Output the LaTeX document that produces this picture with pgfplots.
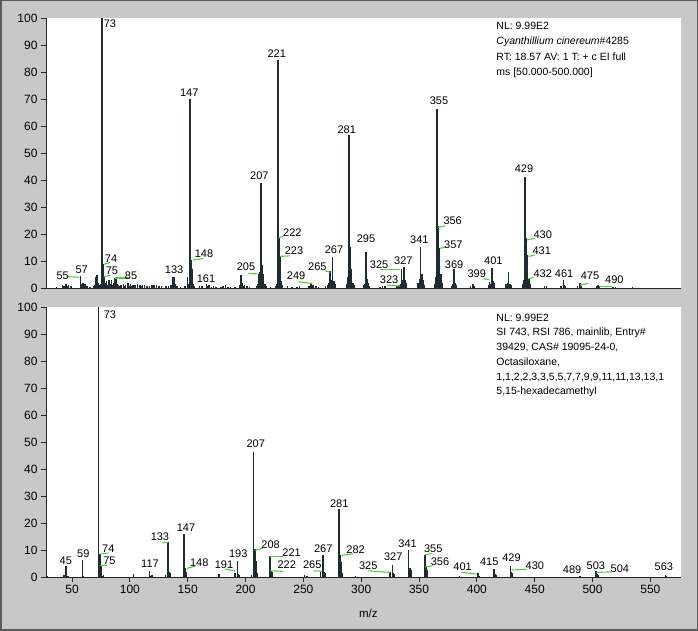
\documentclass[border=0pt]{standalone}
\usepackage{fontspec}
\setmainfont{Liberation Sans}
\usepackage{pgfplots}
\pgfplotsset{compat=1.18}

\definecolor{bg}{HTML}{C8C8C8}
\definecolor{frame}{HTML}{5A5A5A}
\definecolor{peak}{HTML}{1F2B30}
\definecolor{leadgreen}{HTML}{52CF3E}

\newcommand{\lbl}{\fontsize{11}{12}\selectfont}
% peak label and green leader line, in axis coordinates
\newcommand{\pk}[3]{\node[font=\lbl, inner sep=0pt] at (axis cs:#1,#2) {#3};}
\newcommand{\ld}[4]{\draw[leadgreen, line width=1.1pt] (axis cs:#1,#2) -- (axis cs:#3,#4);}

\pgfplotsset{
  ms/.style={
    scale only axis, width=635pt, height=270pt,
    anchor=south west,
    ymin=0, ymax=100, ytick={0,10,...,100},
    axis x line*=bottom, axis y line*=left,
    axis line style={draw=black!85, line width=0.8pt},
    tick style={draw=black!85, line width=0.8pt},
    tick align=outside, major tick length=5pt,
    axis background/.style={fill=white},
    tick label style={font=\fontsize{12}{14}\selectfont},
    /pgf/number format/assume math mode=true,
    clip=false,
  },
  stick/.style={ycomb, draw=peak, line width=1.5pt, mark=none},
}

\begin{document}
\begin{tikzpicture}[x=1pt,y=1pt]
\draw[fill=bg, draw=frame, line width=1.5pt] (0.75,0.75) rectangle (697.25,630.25);

% ---------------- top: sample spectrum ----------------
\begin{axis}[ms, at={(46pt,343pt)}, xmin=26, xmax=560, xtick=\empty]
\addplot[stick] table {
35 0.5
40 1.0
41 0.6
42 0.8
43 1.5
44 0.8
45 1.2
47 0.6
55 4.4
56 1.5
57 2.0
58 0.8
59 1.5
60 0.6
61 0.8
63 0.5
66 0.8
67 1.2
68 4.0
69 4.8
70 2.0
71 1.2
72 1.5
73 100
74 8.8
75 4.2
76 2.0
77 2.5
78 1.2
79 2.8
80 1.5
81 2.8
82 1.0
83 2.0
84 3.6
85 3.2
86 1.5
87 1.0
88 0.8
89 1.2
91 1.5
92 0.8
93 1.2
95 1.8
96 0.8
97 1.5
98 0.6
99 1.0
101 1.2
103 1.5
105 1.0
106 0.6
107 1.2
109 1.0
111 0.8
113 0.6
115 1.0
117 1.2
119 1.0
121 0.8
123 0.6
127 0.6
129 0.8
131 1.0
133 4.2
134 4.0
135 1.5
136 0.6
139 0.5
143 0.6
145 4.2
146 1.5
147 70
148 10.4
149 7.0
150 1.5
151 0.8
155 0.6
157 0.8
161 1.5
162 0.6
163 1.0
165 0.5
167 0.6
169 0.5
173 0.5
175 0.6
177 1.0
179 0.5
181 0.5
185 0.5
189 1.0
190 4.8
191 2.0
192 0.8
193 1.0
195 0.6
197 0.5
203 0.8
204 1.5
205 5.2
206 6.0
207 39
208 8.5
209 5.0
210 1.5
211 0.8
215 0.5
219 0.8
220 1.5
221 84.4
222 19
223 11.6
224 2.5
225 1.2
229 0.6
233 0.5
237 0.5
239 0.6
247 0.8
249 1.8
250 1.0
251 1.2
253 0.6
255 0.5
261 0.6
263 1.0
264 2.0
265 6.4
266 3.0
267 11.6
268 2.5
269 1.5
279 1.5
280 4.0
281 56.7
282 15
283 7.0
284 2.0
285 1.0
293 1.0
294 1.5
295 13.4
296 3.5
297 2.0
298 0.6
307 0.5
309 0.6
311 0.8
321 0.8
323 1.0
324 1.5
325 6.9
326 3.0
327 7.9
328 3.0
329 2.0
339 2.0
340 3.5
341 15.3
342 5.0
343 3.0
344 1.0
353 1.5
354 4.0
355 66.3
356 23
357 14.7
358 5.0
359 2.0
367 0.8
368 1.5
369 6.9
370 2.0
371 1.0
383 0.8
385 1.5
386 0.8
398 1.0
399 2.2
400 1.5
401 7.5
402 2.5
403 2.0
413 1.5
414 2.0
415 6.0
416 1.5
417 1.0
427 1.5
428 3.0
429 41.2
430 18.4
431 12.2
432 3.2
433 1.5
445 0.8
447 0.6
459 0.8
461 3.0
462 1.0
463 0.8
473 0.8
475 1.7
476 0.6
489 0.8
490 1.0
491 0.5
503 0.4
505 0.4
519 0.3
};
\ld{43.4}{4.2}{54}{4.0}
\ld{74.8}{8.8}{79.8}{9.4}
\ld{74.8}{4.2}{79.8}{4.7}
\ld{84}{3.7}{96}{3.7}
\ld{149.4}{10.4}{158.3}{10.9}
\ld{196.1}{5.4}{204.6}{5.2}
\ld{221.4}{18.6}{225.6}{19.1}
\ld{222.7}{11.7}{231.1}{11.9}
\ld{238.2}{2.3}{249.5}{1.7}
\ld{260.6}{6.4}{264.9}{5.8}
\ld{306.9}{6.9}{323.7}{6.9}
\ld{312.5}{1.1}{323.7}{0.7}
\ld{355.9}{22.4}{361.6}{23}
\ld{357.4}{14.7}{362.4}{15.1}
\ld{393.8}{3.4}{398.8}{3.1}
\ld{430.3}{17.8}{437.3}{18.4}
\ld{431.7}{11.7}{437.3}{12.2}
\ld{431.7}{3.4}{435.9}{3.9}
\ld{475.1}{1.1}{482}{1.7}
\ld{491.4}{0.7}{501.8}{0.7}
\pk{79.8}{97.8}{73}
\pk{220}{86.9}{221}
\pk{146.5}{72.3}{147}
\pk{205.4}{41.6}{207}
\pk{233.2}{20.5}{222}
\pk{234.6}{13.8}{223}
\pk{158.9}{12.8}{148}
\pk{80.7}{11}{74}
\pk{81.5}{6.4}{75}
\pk{97.5}{4.7}{85}
\pk{40}{4.7}{55}
\pk{56}{6.9}{57}
\pk{133.7}{6.9}{133}
\pk{160.6}{3.6}{161}
\pk{194.2}{7.9}{205}
\pk{236.3}{4.7}{249}
\pk{254.2}{7.9}{265}
\pk{268.2}{14.1}{267}
\pk{278.9}{58.5}{281}
\pk{295.1}{18.4}{295}
\pk{306.1}{8.8}{325}
\pk{314.5}{3}{323}
\pk{326.5}{10.1}{327}
\pk{340}{18}{341}
\pk{356.5}{69.3}{355}
\pk{368}{24.9}{356}
\pk{368.6}{16.2}{357}
\pk{369.2}{8.8}{369}
\pk{388.2}{5.2}{399}
\pk{402.2}{10}{401}
\pk{428}{44}{429}
\pk{443.7}{19.6}{430}
\pk{442.9}{13.8}{431}
\pk{443.7}{5.4}{432}
\pk{461.7}{5.4}{461}
\pk{483.5}{4.4}{475}
\pk{504}{3.2}{490}
\node[anchor=north west, align=left, inner sep=0pt,
      font=\fontsize{10.5}{15.3}\selectfont] at (rel axis cs:0.709,0.985)
  {NL: 9.99E2\\ \textit{Cyanthillium cinereum}\#4285\\
   RT: 18.57 AV: 1 T: + c EI full\\ ms [50.000-500.000]};
\end{axis}

% ---------------- bottom: library spectrum ----------------
\begin{axis}[ms, at={(46pt,54pt)}, xmin=27.5, xmax=576.5,
  xtick={50,100,...,550}]
\addplot[stick] table {
28 1.5
29 0.5
43 0.8
44 0.6
45 4.2
46 0.5
47 0.5
59 6.4
60 0.5
73 100
74 8.5
75 4.2
76 0.5
77 0.8
103 1.0
117 2.3
118 0.5
119 0.6
131 0.8
133 12.9
134 2.0
135 1.5
147 15.9
148 3.2
149 2.0
177 1.0
191 1.5
193 6.1
194 1.0
195 0.8
205 0.8
207 46.2
208 10.3
209 6.0
210 1.5
221 7.6
222 2.3
223 1.8
251 0.8
253 0.5
265 1.7
267 8.2
268 2.0
269 1.5
281 25.2
282 8.2
283 5.5
284 1.5
295 0.5
325 2.0
327 4.5
328 1.5
329 1.0
341 10.1
342 3.5
343 2.5
355 8.2
356 3.9
357 2.5
385 0.5
401 1.5
402 0.5
415 3.0
416 1.0
417 0.8
429 4.2
430 2.0
431 1.5
489 0.5
503 2.1
504 1.0
505 0.8
563 0.8
564 0.3
};
\ld{74.2}{8.5}{81.4}{8.9}
\ld{74.2}{4.2}{80.4}{4.4}
\ld{127.5}{12.9}{133.2}{12.9}
\ld{149.1}{3.2}{156.3}{4.0}
\ld{182.2}{2.9}{190.9}{2.3}
\ld{208.2}{9.9}{215.3}{10.6}
\ld{221.1}{7.6}{232.6}{7.6}
\ld{221.1}{2.3}{232.6}{2.1}
\ld{258.6}{2.3}{265.8}{2.1}
\ld{283}{8.0}{293}{8.6}
\ld{306.1}{2.3}{324.8}{1.7}
\ld{355.1}{8.2}{360.9}{8.7}
\ld{355.4}{3.7}{361.7}{4.2}
\ld{386.8}{1.7}{399.8}{1.1}
\ld{430}{2.6}{443}{2.8}
\ld{503.5}{1.7}{516.5}{1.9}
\pk{82.8}{97.3}{73}
\pk{208.8}{49.3}{207}
\pk{281}{27.3}{281}
\pk{126}{14.8}{133}
\pk{148.5}{18.3}{147}
\pk{81.4}{10.6}{74}
\pk{82.3}{6.1}{75}
\pk{44.6}{6.1}{45}
\pk{59.8}{8.6}{59}
\pk{117.4}{4.9}{117}
\pk{160}{5.4}{148}
\pk{181.4}{4.5}{191}
\pk{193.7}{8.6}{193}
\pk{221.7}{11.9}{208}
\pk{239.9}{9.1}{221}
\pk{235.6}{4.4}{222}
\pk{257.7}{4.4}{265}
\pk{267.2}{10.6}{267}
\pk{295.2}{10.1}{282}
\pk{306.1}{4.2}{325}
\pk{327.7}{7.6}{327}
\pk{340.1}{12.3}{341}
\pk{362.3}{10.3}{355}
\pk{368.1}{5.8}{356}
\pk{387.7}{3.7}{401}
\pk{410.7}{5.8}{415}
\pk{430}{7.2}{429}
\pk{450.2}{4.2}{430}
\pk{482.4}{2.7}{489}
\pk{502.9}{4.2}{503}
\pk{523.6}{3.2}{504}
\pk{561.7}{3.9}{563}
\node[anchor=north west, align=left, inner sep=0pt,
      font=\fontsize{10.5}{14.7}\selectfont] at (rel axis cs:0.709,0.975)
  {NL: 9.99E2\\ SI 743, RSI 786, mainlib, Entry\#\\
   39429, CAS\# 19095-24-0,\\ Octasiloxane,\\
   1,1,2,2,3,3,5,5,7,7,9,9,11,11,13,13,1\\ 5,15-hexadecamethyl};
\node[font=\fontsize{11.5}{13}\selectfont] at (rel axis cs:0.5075,0) [yshift=-36pt] {m/z};
\end{axis}

\pgfresetboundingbox
\path (0,0) rectangle (698,631);
\end{tikzpicture}
\end{document}
